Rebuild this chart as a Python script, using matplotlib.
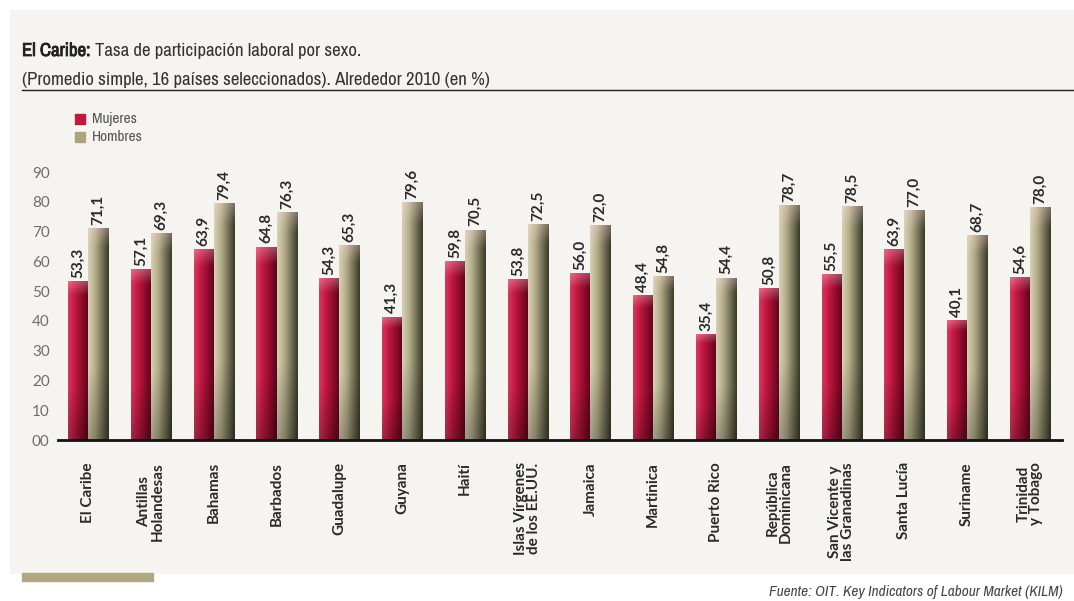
import numpy as np
import matplotlib
matplotlib.use("Agg")
import matplotlib.pyplot as plt
import matplotlib.patheffects as pe
from matplotlib.patches import Rectangle
from matplotlib import font_manager

paises = [
    "El Caribe", "Antillas\nHolandesas", "Bahamas", "Barbados", "Guadalupe",
    "Guyana", "Haití", "Islas Vírgenes\nde los EE.UU.", "Jamaica", "Martinica",
    "Puerto Rico", "República\nDominicana", "San Vicente y\nlas Granadinas",
    "Santa Lucía", "Suriname", "Trinidad\ny Tobago",
]
mujeres = [53.3, 57.1, 63.9, 64.8, 54.3, 41.3, 59.8, 53.8, 56.0, 48.4, 35.4, 50.8, 55.5, 63.9, 40.1, 54.6]
hombres = [71.1, 69.3, 79.4, 76.3, 65.3, 79.6, 70.5, 72.5, 72.0, 54.8, 54.4, 78.7, 78.5, 77.0, 68.7, 78.0]
yticks = [0, 10, 20, 30, 40, 50, 60, 70, 80, 90]

# condensed face for the headings, if one is installed
condensed = sorted({f.name for f in font_manager.fontManager.ttflist
                    if f.stretch in ("condensed", "semi-condensed", "extra-condensed")
                    or "Narrow" in f.name or "Condensed" in f.name})
narrow = condensed[0] if condensed else "DejaVu Sans"
body = ["Lato", "DejaVu Sans"]

W, H = 1074, 601
fig = plt.figure(figsize=(W / 100, H / 100), dpi=100, facecolor="white")


def fx(px):
    return px / W


def fy(py):
    return (H - py) / H


# background panel
fig.patches.append(Rectangle((fx(10), fy(573)), (W - 10) / W, 563 / H,
                             transform=fig.transFigure, color="#f5f4f0", zorder=-10))
fig.patches.append(Rectangle((fx(22), fy(581)), 131 / W, 8 / H,
                             transform=fig.transFigure, color="#b0a883", zorder=-5))
fig.add_artist(plt.Line2D([fx(22), 1.0], [fy(90)] * 2, color="#222222", lw=1.0))

# title
bold_fx = [pe.withStroke(linewidth=0.6, foreground="#222222")]
t1 = fig.text(fx(22), fy(56), "El Caribe:", fontsize=13.5, fontweight="bold",
              family=narrow, stretch="condensed", color="#222222", path_effects=bold_fx)
fig.canvas.draw()
r = fig.canvas.get_renderer()
bb = t1.get_window_extent(r)
fig.text(bb.x1 / W + 5 / W, fy(56), "Tasa de participación laboral por sexo.",
         fontsize=13.5, family=narrow, stretch="condensed", color="#333333")
fig.text(fx(22), fy(85), "(Promedio simple, 16 países seleccionados). Alrededor 2010 (en %)",
         fontsize=13.5, family=narrow, stretch="condensed", color="#333333")

# legend
fig.patches.append(Rectangle((fx(75), fy(124)), 10 / W, 10 / H, transform=fig.transFigure,
                             color="#c0193f"))
fig.patches.append(Rectangle((fx(75), fy(142)), 10 / W, 10 / H, transform=fig.transFigure,
                             color="#aea47c"))
fig.text(fx(92), fy(119), "Mujeres", fontsize=11, family=narrow, stretch="condensed",
         color="#555555", va="center")
fig.text(fx(92), fy(137), "Hombres", fontsize=11, family=narrow, stretch="condensed",
         color="#555555", va="center")

fig.text(fx(1063), fy(592), "Fuente: OIT. Key Indicators of Labour Market (KILM)",
         fontsize=11, family=narrow, stretch="condensed", style="italic", color="#444444",
         ha="right", va="center")

ax = fig.add_axes([fx(58), fy(440), (1062 - 58) / W, (440 - 172) / H])
ax.set_facecolor("none")


def shade(light, mid, dark):
    light, mid, dark = (np.array(matplotlib.colors.to_rgb(c)) for c in (light, mid, dark))
    xs = np.linspace(0, 1, 40)
    row = np.array([light + (mid - light) * (x / 0.35) if x < 0.35
                    else mid + (dark - mid) * ((x - 0.35) / 0.65) for x in xs])
    ys = np.linspace(0, 1, 60)[:, None, None]  # 0 bottom -> 1 top
    img = row[None, :, :] * (0.75 + 0.25 * np.clip(ys * 3, 0, 1))
    top = np.clip((ys - 0.92) / 0.08, 0, 1)
    img = img * (1 - 0.3 * top) + 0.3 * top * np.array([1, 0.85, 0.88])
    return np.clip(img, 0, 1)


red_img = shade("#d8385c", "#c01640", "#5c0418")
tan_img = shade("#d6d1b4", "#b3ac88", "#3c3b28")

x = np.arange(len(paises))
bw = 0.32
for i in range(len(paises)):
    for val, off, img in ((mujeres[i], -bw / 2, red_img), (hombres[i], bw / 2, tan_img)):
        left = x[i] + off - bw / 2
        ax.imshow(img, extent=(left, left + bw, 0, val), origin="lower",
                  aspect="auto", interpolation="bilinear", zorder=2)
        ax.text(x[i] + off, val + 1.2, f"{val:.1f}".replace(".", ","), rotation=90,
                ha="center", va="bottom", fontsize=11, fontweight="bold",
                color="#2a2a2a", family=body, clip_on=False)

ax.set_xlim(-0.48, len(paises) - 1 + 0.51)
ax.set_ylim(0, 90)
ax.set_yticks(yticks)
ax.set_yticklabels([f"{v:02d}" for v in yticks], color="#6e6e6e", fontsize=11,
                   family=body)
ax.set_xticks(x)
ax.set_xticklabels(paises, rotation=90, fontsize=11, fontweight="bold", color="#2a2a2a",
                   family=body, va="top", ha="center", linespacing=0.9)
ax.tick_params(axis="both", length=0, pad=6)
ax.tick_params(axis="x", pad=16)
for s in ("top", "right", "left"):
    ax.spines[s].set_visible(False)
ax.spines["bottom"].set_linewidth(2)
ax.spines["bottom"].set_color("#111111")
ax.spines["bottom"].set_zorder(5)

fig.savefig("out.png", dpi=100, facecolor="white")
